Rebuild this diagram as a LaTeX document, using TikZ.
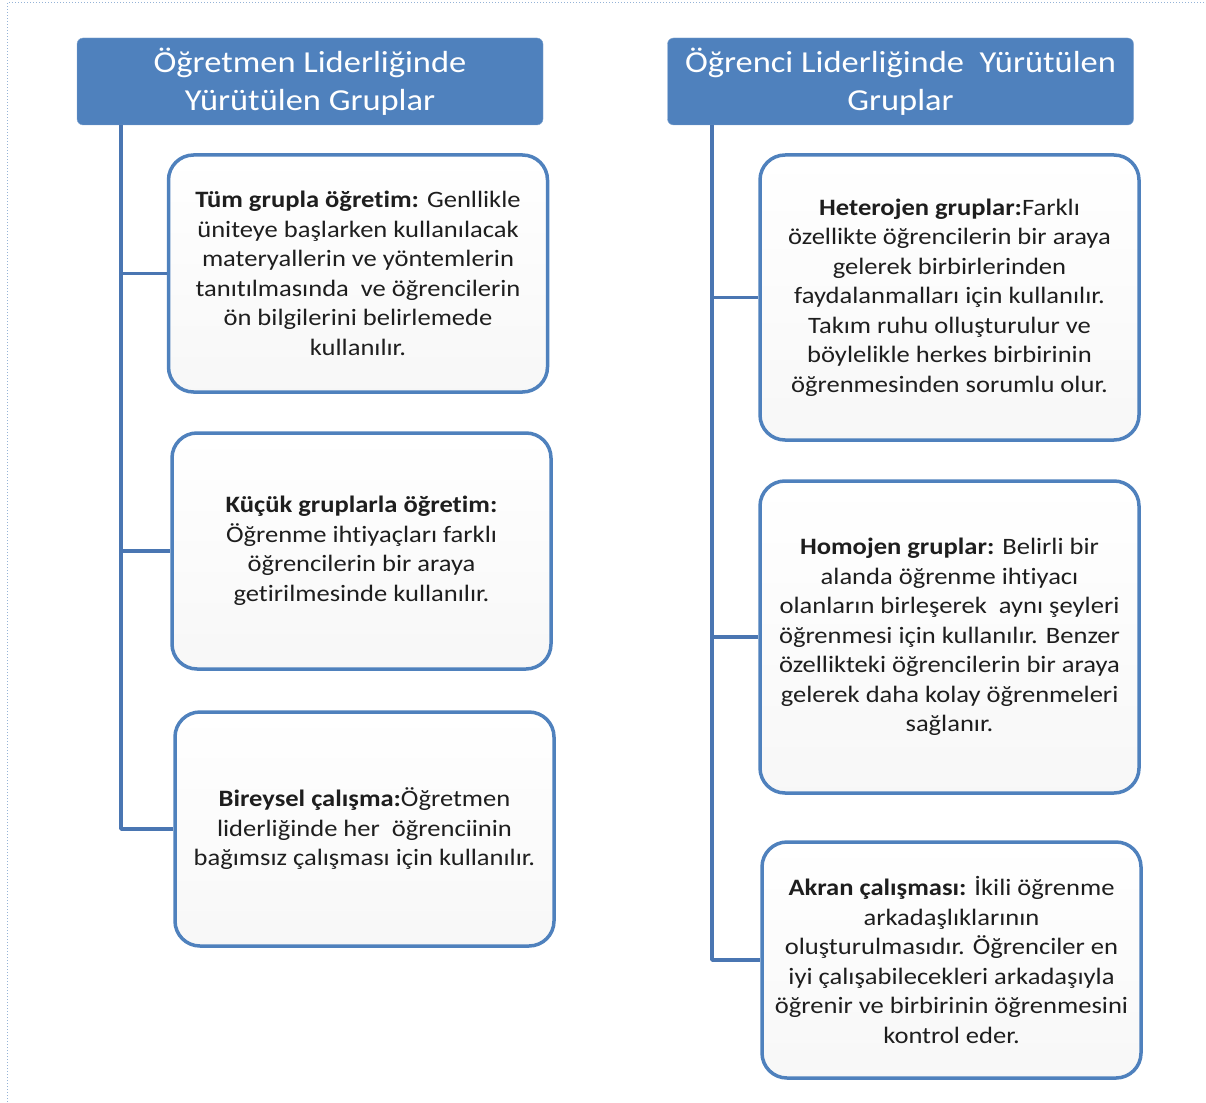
\documentclass[tikz,border=0pt]{standalone}
\usepackage{fontspec}
\setmainfont{Carlito}[FakeStretch=1.13, Ligatures=NoCommon]
\definecolor{baslik}{HTML}{4F81BD}
\definecolor{cizgi}{HTML}{4A76B2}
\definecolor{metin}{HTML}{1E1E1E}

\begin{document}
\begin{tikzpicture}[x=1pt, y=-1pt, line join=round,
        header/.style={fill=baslik, draw=baslik!70!white, rounded corners=6pt, text=white, align=center,
            minimum width=466pt, minimum height=87pt, inner sep=0pt, font=\fontsize{30.5}{38}\selectfont},
        card/.style={draw=baslik, line width=3.5pt, rounded corners=25pt, top color=white, bottom color=gray!6,
            text=metin, align=center, minimum width=379pt, inner sep=0pt, font=\fontsize{23.5}{29.5}\selectfont},
        branch/.style={draw=cizgi, line width=3.5pt}]

    \useasboundingbox (0,0) rectangle (1206,1102);
    \draw[dotted, draw=baslik!60, line width=1pt] (7,1102) -- (7,3) -- (1206,3);

    % left column
    \node[header] (ogretmen) at (310,81.5) {Öğretmen Liderliğinde\\Yürütülen Gruplar};

    \node[card, minimum height=237pt] (tum) at (358,273.5)
        {\textbf{Tüm grupla öğretim:} Genllikle\\üniteye başlarken kullanılacak\\materyallerin ve yöntemlerin\\
         tanıtılmasında\ \ ve öğrencilerin\\ön bilgilerini belirlemede\\kullanılır.};
    \node[card, minimum height=236pt] (kucuk) at (361.5,551)
        {\textbf{Küçük gruplarla öğretim:}\\Öğrenme ihtiyaçları farklı\\öğrencilerin bir araya\\getirilmesinde kullanılır.};
    \node[card, minimum height=234pt] (bireysel) at (364.5,829)
        {\textbf{Bireysel çalışma:}Öğretmen\\liderliğinde her\ \ öğrenciinin\\bağımsız çalışması için kullanılır.};

    % right column
    \node[header] (ogrenci) at (900.5,81.5) {Öğrenci Liderliğinde\ \ Yürütülen\\Gruplar};

    \node[card, minimum height=285pt] (hetero) at (949.5,297.5)
        {\textbf{Heterojen gruplar:}Farklı\\özellikte öğrencilerin bir araya\\gelerek birbirlerinden\\
         faydalanmalları için kullanılır.\\Takım ruhu olluşturulur ve\\böylelikle herkes birbirinin\\öğrenmesinden sorumlu olur.};
    \node[card, minimum height=312pt] (homo) at (949.5,637)
        {\textbf{Homojen gruplar:} Belirli bir\\alanda öğrenme ihtiyacı\\olanların birleşerek\ \ aynı şeyleri\\
         öğrenmesi için kullanılır. Benzer\\özellikteki öğrencilerin bir araya\\gelerek daha kolay öğrenmeleri\\sağlanır.};
    \node[card, minimum height=236pt] (akran) at (951.5,960)
        {\textbf{Akran çalışması:} İkili öğrenme\\arkadaşlıklarının\\oluşturulmasıdır. Öğrenciler en\\
         iyi çalışabilecekleri arkadaşıyla\\öğrenir ve birbirinin öğrenmesini\\kontrol eder.};

    % connectors
    \coordinate (sol) at (ogretmen.south west -| 121,0);
    \coordinate (sag) at (ogrenci.south west -| 712,0);

    \draw[branch] (sol) |- (bireysel.west);
    \draw[branch] (sol |- tum.west) -- (tum.west);
    \draw[branch] (sol |- kucuk.west) -- (kucuk.west);

    \draw[branch] (sag) |- (akran.west);
    \draw[branch] (sag |- hetero.west) -- (hetero.west);
    \draw[branch] (sag |- homo.west) -- (homo.west);

\end{tikzpicture}
\end{document}
